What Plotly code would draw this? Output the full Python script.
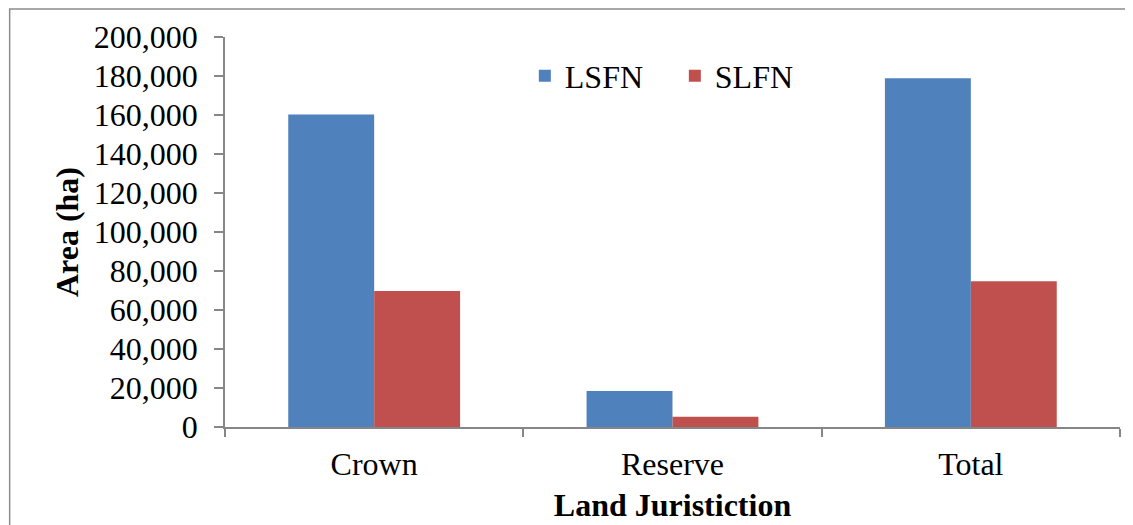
import plotly.graph_objects as go

categories = ["Crown", "Reserve", "Total"]
lsfn = [160300, 18500, 178800]
slfn = [69700, 5200, 74800]
series_names = ["LSFN", "SLFN"]
y_ticks = list(range(0, 200001, 20000))

FONT = "Liberation Serif, Times New Roman, serif"
AXIS = "#868686"

fig = go.Figure()
fig.add_trace(go.Bar(x=categories, y=lsfn, name=series_names[0],
                     marker=dict(color="#4F81BD", line=dict(width=0))))
fig.add_trace(go.Bar(x=categories, y=slfn, name=series_names[1],
                     marker=dict(color="#C0504D", line=dict(width=0))))

# the page body has an 8px margin, so the figure is sized/offset accordingly
fig.update_layout(
    width=1125, height=517,
    margin=dict(l=217, r=13, t=29, b=98),
    paper_bgcolor="white", plot_bgcolor="white",
    barmode="group", bargap=0.424, bargroupgap=0,
    font=dict(family=FONT, size=32, color="black"),
    showlegend=True,
    legend=dict(orientation="h", x=0.335, y=0.90, xanchor="left", yanchor="middle",
                font=dict(family=FONT, size=32), bgcolor="rgba(0,0,0,0)",
                itemwidth=30, entrywidth=105, tracegroupgap=0),
    xaxis=dict(
        showline=True, linecolor=AXIS, linewidth=1.5,
        ticks="outside", tickson="boundaries", ticklen=8, tickcolor=AXIS, tickwidth=1.5,
        ticklabelstandoff=8,
        tickfont=dict(family=FONT, size=32),
        title=dict(text="<b>Land Juristiction</b>", font=dict(family=FONT, size=32), standoff=12),
        showgrid=False, automargin=False,
    ),
    yaxis=dict(
        range=[0, 200000], tickvals=y_ticks, tickformat=",",
        showline=True, linecolor=AXIS, linewidth=1.5,
        ticks="outside", ticklen=9, tickcolor=AXIS, tickwidth=1.5,
        ticklabelstandoff=10,
        tickfont=dict(family=FONT, size=32),
        title=dict(text="<b>Area (ha)</b>", font=dict(family=FONT, size=32), standoff=6),
        showgrid=False, zeroline=False, automargin=False,
    ),
    shapes=[dict(type="rect", xref="paper", yref="paper",
                 x0=-0.2406, x1=1.0067, y0=-0.30, y1=1.0718,
                 line=dict(color="#8c8c8c", width=1.5), fillcolor="rgba(0,0,0,0)", layer="below")],
)

fig.write_html("out.html")
